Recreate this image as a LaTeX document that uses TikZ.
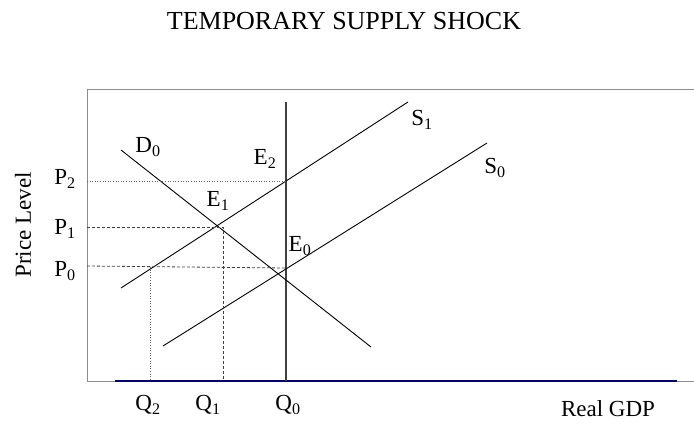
\documentclass[tikz,border=0pt]{standalone}
\usepackage{fontspec}
\setmainfont{Liberation Serif}
\definecolor{axisnavy}{HTML}{000080}
\begin{document}
\begin{tikzpicture}[x=1pt,y=-1pt,
  framestyle/.style={draw=black!45, line width=1pt},
  curvestyle/.style={draw=black, line width=0.9pt},
  vlinestyle/.style={draw=black!75, line width=1.3pt},
  dotguide/.style={draw=black!60, dotted, line width=0.6pt},
  dashguide/.style={draw=black!75, dash pattern=on 3pt off 2pt, line width=0.8pt},
  axisstyle/.style={draw=axisnavy, line width=1.3pt},
  lbl/.style={font=\fontsize{23}{27}\selectfont, inner sep=0pt},
  titlestyle/.style={font=\fontsize{26}{30}\selectfont, inner sep=0pt}]
\useasboundingbox (0,0) rectangle (694,425);

% frame
\coordinate (ftl) at (87,90);
\coordinate (ftr) at (694,90);
\coordinate (fbl) at (87,381);
\coordinate (fbr) at (694,381);
\coordinate (axL) at (115,381);
\coordinate (axR) at (677,381);
\draw[framestyle] (ftr) -- (ftl) -- (fbl) -- (fbr);
\draw[axisstyle] (axL) -- (axR);

% vertical line
\coordinate (vtop) at (286,102);
\coordinate (vbot) at (286,381);
\draw[vlinestyle] (vtop) -- (vbot);

% curves
\coordinate (d0a) at (121,150);
\coordinate (d0b) at (371,347);
\coordinate (s1a) at (121,288);
\coordinate (s1b) at (408,102);
\coordinate (s0a) at (163,346);
\coordinate (s0b) at (487,143);
\draw[curvestyle] (d0a) -- (d0b);
\draw[curvestyle] (s1a) -- (s1b);
\draw[curvestyle] (s0a) -- (s0b);

% guides
\coordinate (p2l) at (87,181);
\coordinate (p2r) at (286,181);
\coordinate (p1l) at (87,227);
\coordinate (p1r) at (223,227);
\coordinate (q1b) at (223,381);
\coordinate (p0l) at (87,266);
\coordinate (p0r) at (286,268);
\coordinate (q2t) at (150,267);
\coordinate (q2b) at (150,381);
\draw[dotguide] (p2l) -- (p2r);
\draw[dashguide] (p1l) -- (p1r) -- (q1b);
\draw[dashguide] (p0l) -- (p0r);
\draw[dotguide] (q2t) -- (q2b);

% labels
\node[titlestyle] (title) at (344,21) {TEMPORARY SUPPLY SHOCK};
\node[lbl, rotate=90] (ylab) at (23,225) {Price Level};
\node[lbl] (xlab) at (608,409) {Real GDP};
\node[lbl] (P2) at (65,179) {P\textsubscript{2}};
\node[lbl] (P1) at (65,229) {P\textsubscript{1}};
\node[lbl] (P0) at (65,271) {P\textsubscript{0}};
\node[lbl] (Q2) at (148,405) {Q\textsubscript{2}};
\node[lbl] (Q1) at (208,405) {Q\textsubscript{1}};
\node[lbl] (Q0) at (288,405) {Q\textsubscript{0}};
\node[lbl] (D0) at (148,147) {D\textsubscript{0}};
\node[lbl] (E2) at (265,159) {E\textsubscript{2}};
\node[lbl] (E1) at (218,201) {E\textsubscript{1}};
\node[lbl] (E0) at (300,246) {E\textsubscript{0}};
\node[lbl] (S1) at (422,120) {S\textsubscript{1}};
\node[lbl] (S0) at (495,168) {S\textsubscript{0}};
\end{tikzpicture}
\end{document}
